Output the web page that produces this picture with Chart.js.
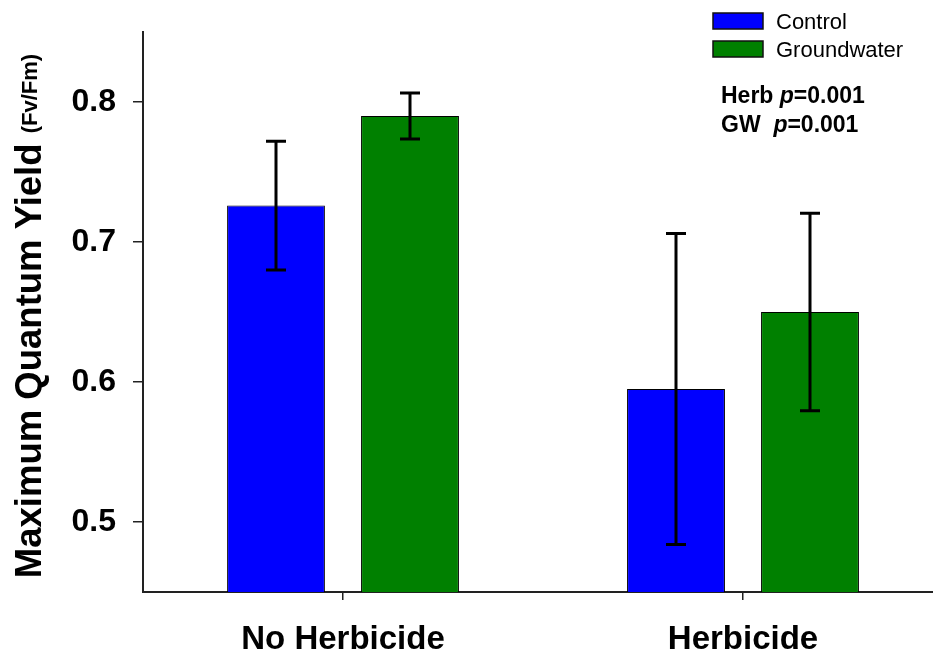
<!DOCTYPE html>
<html>
<head>
<meta charset="utf-8">
<script src="https://cdn.jsdelivr.net/npm/chart.js@4.4.1/dist/chart.umd.min.js"></script>
<style>
  html, body { margin: 0; padding: 0; background: #fff; overflow: hidden; }
  #wrap { width: 943px; height: 658px; }
</style>
</head>
<body>
<div id="wrap"><canvas id="chart" width="943" height="658"></canvas></div>
<script>
const categories = ['No Herbicide', 'Herbicide'];
const controlMeans = [0.726, 0.595];
const controlErr = [0.046, 0.111];
const gwMeans = [0.790, 0.650];
const gwErr = [0.0165, 0.0705];
const yTicks = [0.5, 0.6, 0.7, 0.8];
const statLines = [['Herb ', '=0.001'], ['GW  ', '=0.001']];

const FONT = 'Liberation Sans, Arial, Helvetica, sans-serif';

// error bars on top of each bar
const errorBars = {
  id: 'errorBars',
  afterDatasetsDraw(chart) {
    const ctx = chart.ctx;
    const y = chart.scales.y;
    ctx.save();
    ctx.strokeStyle = '#000';
    ctx.lineWidth = 3;
    chart.data.datasets.forEach((ds, di) => {
      const meta = chart.getDatasetMeta(di);
      meta.data.forEach((bar, i) => {
        const v = ds.data[i];
        const e = ds.errors[i];
        const top = y.getPixelForValue(v + e);
        const bot = y.getPixelForValue(v - e);
        ctx.beginPath();
        ctx.moveTo(bar.x, top);
        ctx.lineTo(bar.x, bot);
        ctx.moveTo(bar.x - 10, top);
        ctx.lineTo(bar.x + 10, top);
        ctx.moveTo(bar.x - 10, bot);
        ctx.lineTo(bar.x + 10, bot);
        ctx.stroke();
      });
    });
    ctx.restore();
  }
};

// legend, stats text and the y title with its smaller unit
const extras = {
  id: 'extras',
  afterDraw(chart) {
    const ctx = chart.ctx;
    ctx.save();
    ctx.fillStyle = '#000';
    ctx.textBaseline = 'alphabetic';

    chart.data.datasets.forEach((ds, i) => {
      const top = 13 + i * 28;
      ctx.fillStyle = ds.backgroundColor;
      ctx.fillRect(713, top, 50, 16);
      ctx.strokeStyle = '#111';
      ctx.lineWidth = 1.5;
      ctx.strokeRect(713, top, 50, 16);
      ctx.fillStyle = '#000';
      ctx.font = '22px ' + FONT;
      ctx.textAlign = 'left';
      ctx.fillText(ds.label, 776, top + 16);
    });

    statLines.forEach((parts, i) => {
      const base = 103 + i * 28.5;
      let x = 721;
      ctx.font = 'bold 23px ' + FONT;
      ctx.fillText(parts[0], x, base);
      x += ctx.measureText(parts[0]).width;
      ctx.font = 'italic bold 23px ' + FONT;
      ctx.fillText('p', x, base);
      x += ctx.measureText('p').width;
      ctx.font = 'bold 23px ' + FONT;
      ctx.fillText(parts[1], x, base);
    });

    const main = 'Maximum Quantum Yield ';
    const unit = '(Fv/Fm)';
    ctx.translate(41, 316);
    ctx.rotate(-Math.PI / 2);
    ctx.font = 'bold 36.5px ' + FONT;
    const w1 = ctx.measureText(main).width;
    ctx.font = 'bold 22px ' + FONT;
    const w2 = ctx.measureText(unit).width;
    const start = -(w1 + w2) / 2;
    ctx.font = 'bold 36.5px ' + FONT;
    ctx.fillText(main, start, 0);
    ctx.font = 'bold 22px ' + FONT;
    ctx.fillText(unit, start + w1, -4);
    ctx.restore();
  }
};

new Chart(document.getElementById('chart'), {
  type: 'bar',
  data: {
    labels: categories,
    datasets: [
      {
        label: 'Control',
        data: controlMeans,
        errors: controlErr,
        backgroundColor: '#0000ff',
        borderColor: '#000',
        borderWidth: 1,
      },
      {
        label: 'Groundwater',
        data: gwMeans,
        errors: gwErr,
        backgroundColor: '#008000',
        borderColor: '#000',
        borderWidth: 1,
      },
    ],
  },
  options: {
    responsive: false,
    animation: false,
    categoryPercentage: 0.67,
    barPercentage: 0.73,
    layout: { padding: { top: 32, left: 0, right: 0, bottom: 0 } },
    plugins: {
      legend: { display: false },
      tooltip: { enabled: false },
    },
    scales: {
      x: {
        offset: true,
        afterFit: (s) => { s.height = 66; },
        grid: { drawOnChartArea: false, offset: false, tickLength: 8, color: '#222', lineWidth: 1.5 },
        border: { display: true, color: '#222', width: 2 },
        ticks: { color: '#000', padding: 20, font: { family: FONT, size: 33, weight: 'bold' } },
      },
      y: {
        min: 0.45,
        max: 0.85,
        afterFit: (s) => { s.width = 143; s.paddingTop = 0; s.paddingBottom = 0; },
        afterBuildTicks: (s) => { s.ticks = yTicks.map((v) => ({ value: v })); },
        grid: { drawOnChartArea: false, tickLength: 10, color: '#222', lineWidth: 1.5 },
        border: { display: true, color: '#222', width: 2 },
        ticks: {
          color: '#000',
          padding: 17,
          font: { family: FONT, size: 32, weight: 'bold' },
          callback: (v) => v.toFixed(1),
        },
      },
    },
  },
  plugins: [errorBars, extras],
});
</script>
</body>
</html>
